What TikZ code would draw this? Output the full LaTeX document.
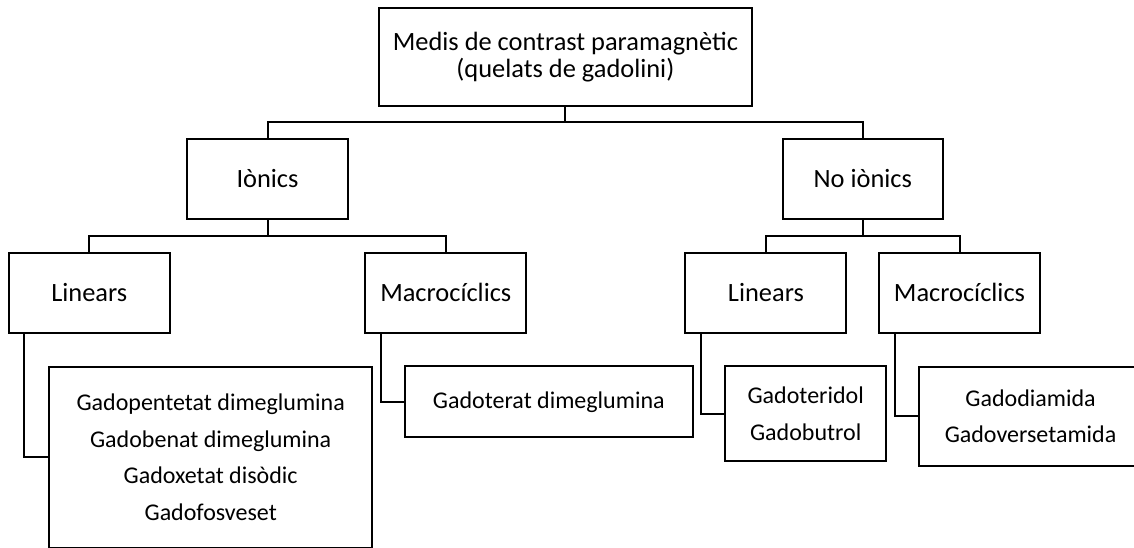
\documentclass[tikz,border=0pt]{standalone}
\usepackage{fontspec}
\setmainfont{Carlito}
\begin{document}
\begin{tikzpicture}[x=1pt,y=-1pt,
  box/.style={draw=black, line width=2pt, inner sep=0pt, align=center, font=\fontsize{26.4}{27.5}\selectfont},
  leafbox/.style={box, font=\fontsize{24}{36.8}\selectfont},
  conn/.style={draw=black, line width=2pt}]
\useasboundingbox (0,0) rectangle (1134,548);
% top
\node[box, minimum width=373.6pt, minimum height=98pt] (top) at (565.4,57) {Medis de contrast paramagnètic\\(quelats de gadolini)};
% level 2
\node[box, minimum width=161pt, minimum height=80.6pt] (ion) at (267.5,179) {Iònics};
\node[box, minimum width=160.5pt, minimum height=80.6pt] (noion) at (862.8,179) {No iònics};
% level 3
\node[box, minimum width=161pt, minimum height=80.3pt] (linA) at (89.2,292.8) {Linears};
\node[box, minimum width=161pt, minimum height=80.3pt] (macA) at (445.8,292.8) {Macrocíclics};
\node[box, minimum width=161pt, minimum height=80.3pt] (linB) at (765.9,292.8) {Linears};
\node[box, minimum width=161pt, minimum height=80.3pt] (macB) at (959.5,292.8) {Macrocíclics};
% leaves
\node[leafbox, minimum width=323.5pt, minimum height=181.5pt] (leafA) at (210.7,457.3) {Gadopentetat dimeglumina\\Gadobenat dimeglumina\\Gadoxetat disòdic\\Gadofosveset};
\node[leafbox, minimum width=287.5pt, minimum height=71pt] (leafB) at (548.8,401.8) {Gadoterat dimeglumina};
\node[leafbox, minimum width=161.4pt, minimum height=94.4pt] (leafC) at (805.7,413.5) {Gadoteridol\\Gadobutrol};
\node[leafbox, minimum width=223pt, minimum height=99pt] (leafD) at (1030.5,416.2) {Gadodiamida\\Gadoversetamida};
% connectors
\coordinate (j1) at (565.4,121.7);
\coordinate (j2) at (267.5,235.7);
\coordinate (j3) at (862.8,235.7);
\draw[conn] (top.south) -- (j1);
\draw[conn] (ion.north) |- (j1) -| (noion.north);
\draw[conn] (ion.south) -- (j2);
\draw[conn] (linA.north) |- (j2) -| (macA.north);
\draw[conn] (noion.south) -- (j3);
\draw[conn] (linB.north) |- (j3) -| (macB.north);
\draw[conn] ([xshift=16.5pt]linA.south west) |- (leafA.west);
\draw[conn] ([xshift=16.5pt]macA.south west) |- (leafB.west);
\draw[conn] ([xshift=16.5pt]linB.south west) |- (leafC.west);
\draw[conn] ([xshift=16.5pt]macB.south west) |- (leafD.west);
\end{tikzpicture}
\end{document}
